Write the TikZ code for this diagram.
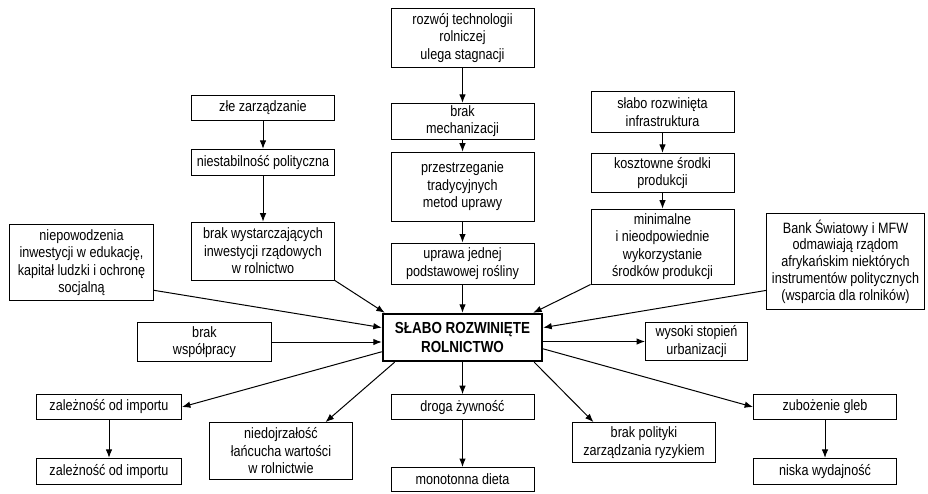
\documentclass[tikz,border=0pt]{standalone}
\usepackage{fontspec}
\setmainfont{Liberation Sans}[FakeStretch=0.84]
\usetikzlibrary{arrows.meta,positioning}

\begin{document}
\begin{tikzpicture}[
  x=1pt, y=-1pt,
  box/.style={draw, line width=0.8pt, align=center, minimum width=143pt,
  inner xsep=3pt, inner ysep=2pt, font=\fontsize{15pt}{17.5pt}\selectfont},
  mainbox/.style={box, line width=2.4pt, minimum width=159pt,
  minimum height=47pt, font=\bfseries\fontsize{16pt}{18.5pt}\selectfont},
  arrow/.style={-{Latex[length=8.5pt,width=6.5pt]}, line width=1pt}
]
  \useasboundingbox (0,0) rectangle (928,493);

  % middle column
  \node[box, minimum height=59pt] (tech) at (462.5,38) {rozwój technologii\\rolniczej\\ulega stagnacji};
  \node[box, minimum height=36pt, below=35pt of tech] (mech) {brak\\mechanizacji};
  \node[box, minimum height=69pt, below=12pt of mech] (trad) {przestrzeganie\\tradycyjnych\\metod uprawy};
  \node[box, minimum height=41pt, below=21pt of trad] (mono) {uprawa jednej\\podstawowej rośliny};
  \node[mainbox] (core) at (462.5,337.5) {SŁABO ROZWINIĘTE\\ROLNICTWO};
  \node[box, minimum height=25pt, below=32pt of core] (food) {droga żywność};
  \node[box, minimum height=24pt, below=47pt of food] (diet) {monotonna dieta};

  % left column
  \node[box, minimum height=25pt] (mgmt) at (263,108) {złe zarządzanie};
  \node[box, minimum height=26pt, below=28pt of mgmt] (instab) {niestabilność polityczna};
  \node[box, minimum height=58pt, below=46pt of instab] (invest) {brak wystarczających\\inwestycji rządowych\\w rolnictwo};

  % right column
  \node[box, minimum height=41pt] (infra) at (662.5,112) {słabo rozwinięta\\infrastruktura};
  \node[box, minimum height=39pt, below=20pt of infra] (cost) {kosztowne środki\\produkcji};
  \node[box, minimum height=75pt, below=16pt of cost] (inputs) {minimalne\\i nieodpowiednie\\wykorzystanie\\środków produkcji};

  % side boxes
  \node[box, minimum width=144pt, minimum height=76pt] (edu) at (81.5,262.5) {niepowodzenia\\inwestycji w edukację,\\kapitał ludzki i ochronę\\socjalną};
  \node[box, minimum width=134pt, minimum height=39pt] (coop) at (204.5,342) {brak\\współpracy};
  \node[box, minimum width=158pt, minimum height=96pt, font=\fontsize{15pt}{16.7pt}\selectfont] (bank) at (845.5,261.5) {Bank Światowy i MFW\\odmawiają rządom\\afrykańskim niektórych\\instrumentów politycznych\\(wsparcia dla rolników)};
  \node[box, minimum width=102pt, minimum height=38pt] (urban) at (696.5,341.5) {wysoki stopień\\urbanizacji};

  % effects
  \node[box, minimum width=145pt, minimum height=25pt] (imp1) at (109,407) {zależność od importu};
  \node[box, minimum width=145pt, minimum height=26pt, below=38pt of imp1] (imp2) {zależność od importu};
  \node[box, minimum height=57pt] (chain) at (281,451) {niedojrzałość\\łańcucha wartości\\w rolnictwie};
  \node[box, minimum height=40pt] (risk) at (644,442.5) {brak polityki\\zarządzania ryzykiem};
  \node[box, minimum height=25pt] (soil) at (825,407) {zubożenie gleb};
  \node[box, minimum height=26pt, below=38pt of soil] (yield) {niska wydajność};

  \draw[arrow] (tech) -- (mech);
  \draw[arrow] (mech) -- (trad);
  \draw[arrow] (trad) -- (mono);
  \draw[arrow] (mono) -- (core);
  \draw[arrow] (mgmt) -- (instab);
  \draw[arrow] (instab) -- (invest);
  \draw[arrow] (infra) -- (cost);
  \draw[arrow] (cost) -- (inputs);
  \draw[arrow] (invest.south east) -- ([xshift=3pt]core.north west);
  \draw[arrow] (inputs.south west) -- ([xshift=-10pt]core.north east);
  \draw[arrow] (edu.-21) -- (core.173);
  \draw[arrow] (coop.east) -- (coop.east -| core.west);
  \draw[arrow] (bank.200) -- (core.7);
  \draw[arrow] (core.east |- urban.west) -- (urban.west);
  \draw[arrow] (core.190) -- (imp1.east);
  \draw[arrow] (imp1) -- (imp2);
  \draw[arrow] (core.200) -- (chain.33);
  \draw[arrow] (core) -- (food);
  \draw[arrow] (food) -- (diet);
  \draw[arrow] (core.-19) -- (risk.158);
  \draw[arrow] (core.-8) -- (soil.west);
  \draw[arrow] (soil) -- (yield);
\end{tikzpicture}
\end{document}
